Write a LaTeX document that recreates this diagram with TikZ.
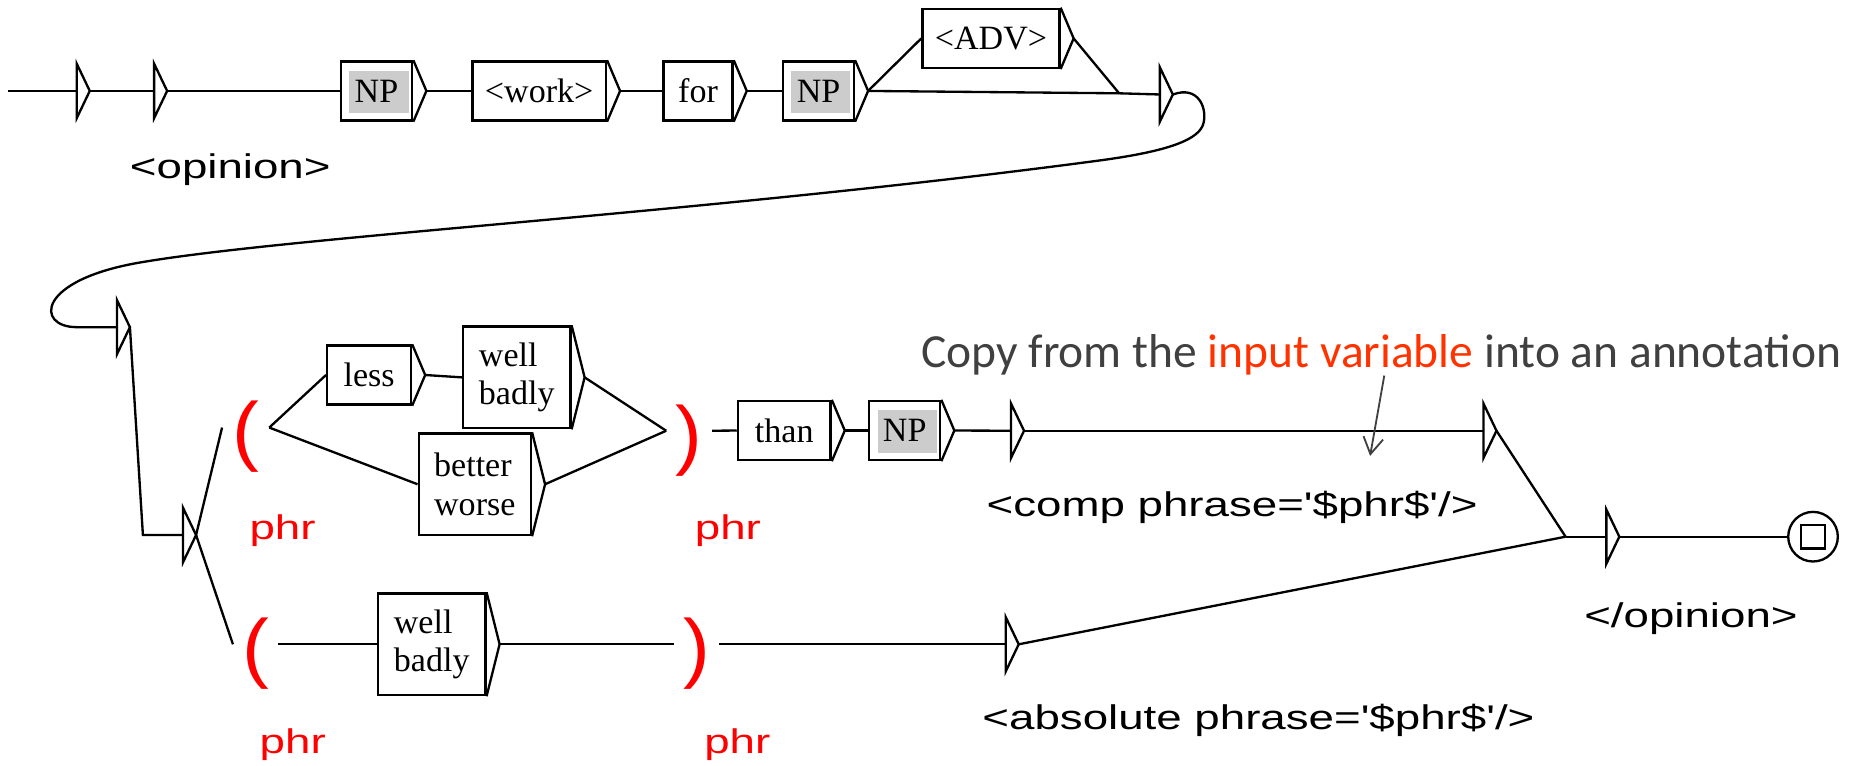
\documentclass[tikz,border=0pt]{standalone}
\usepackage{fontspec}
\usetikzlibrary{arrows.meta}
\newfontfamily\serfont{Liberation Serif}
\newfontfamily\sanfont{Liberation Sans}
\newfontfamily\notefont{Carlito}
\definecolor{notegray}{HTML}{404040}
\definecolor{notered}{HTML}{FF3300}
\newcommand{\px}{0.025cm}
\newcommand{\tip}[1]{\draw (#1.north east) -- ([shift={(11,0)}]#1.east) coordinate (#1-o) -- (#1.south east);}
\newcommand{\pglyph}[1]{\raisebox{-0.2cm}[\height][\depth]{\scalebox{1.1}[1.05]{#1}}}
\tikzset{
	box/.style={draw, inner sep=0pt, minimum height=50*\px, font=\serfont\fontsize{20.5}{23}\selectfont},
	box2/.style={box, align=left, minimum height=86*\px},
	npbox/.style={box, path picture={\fill[gray!40] ([shift={(7,8)}]path picture bounding box.north west) rectangle ([shift={(-3,-6)}]path picture bounding box.south east);}},
	tag/.style={inner sep=0pt, anchor=base west, xscale=1.335, font=\sanfont\fontsize{20.6}{24}\selectfont},
	var/.style={tag, text=red},
	paren/.style={inner sep=0pt, text=red, font=\sanfont\fontsize{44}{44}\selectfont},
	qstate/.pic={\draw (0,-23) -- (11,0) coordinate (-o) -- (0,23) -- cycle; \coordinate (-i) at (0,0);}
}
\begin{document}
\begin{tikzpicture}[x=\px, y=-\px, line width=1.4pt]
	\useasboundingbox (0,0) rectangle (1568,648);
	% first line of the graph
	\coordinate (in) at (7,77);
	\pic (q1) at (65,77) {qstate};
	\pic (q2) at (130.5,77) {qstate};
	\node[npbox, minimum width=60.5*\px] (np1) at (318.75,77) {NP}; \tip{np1}
	\node[box, minimum width=113*\px] (work) at (456.5,77) {<work>}; \tip{work}
	\node[box, minimum width=58.5*\px] (bfor) at (591,77) {for}; \tip{bfor}
	\node[npbox, minimum width=60*\px] (np2) at (693,77) {NP}; \tip{np2}
	\node[box, minimum width=116*\px] (adv) at (839,32.5) {<ADV>}; \tip{adv}
	\coordinate (j1) at (947.5,79);
	\pic (q3) at (982,80) {qstate};
	\node[tag] (lopen) at (108.7,151) {<opinion>};
	\draw (in) -- (q1-i);
	\draw (q1-o) -- (q2-i);
	\draw (q2-o) -- (np1.west);
	\draw (np1-o) -- (work.west);
	\draw (work-o) -- (bfor.west);
	\draw (bfor-o) -- (np2.west);
	\draw (np2-o) -- (adv.west);
	\draw (np2-o) -- (j1);
	\draw (adv-o) -- (j1) -- (q3-i);
	% loop back to the left
	\pic (q4) at (99,277) {qstate};
	\draw (q3-o) .. controls (1015,72) and (1022,92) .. (1019,104)
		.. controls (1016,118) and (990,128) .. (930,136)
		.. controls (600,180) and (250,200) .. (120,222)
		.. controls (30,237) and (30,277) .. (65,277) -- (q4-i);
	\coordinate (k1) at (121,453);
	\pic (q6) at (155,453) {qstate};
	\draw (q4-o) -- (k1) -- (q6-i);
	% comparative branch
	\node[paren, minimum width=38*\px] (lp1) at (208,362) {\pglyph{(}};
	\node[var] (v1) at (210,457) {phr};
	\node[box, minimum width=71*\px] (less) at (312.5,317.5) {less}; \tip{less}
	\node[box2, minimum width=91*\px] (wb1) at (437.5,319.5) {well\\badly}; \tip{wb1}
	\node[box2, minimum width=95*\px] (bw) at (402,410) {better\\worse}; \tip{bw}
	\node[paren, minimum width=37*\px] (rp1) at (583.5,364.7) {\pglyph{)}};
	\node[var] (v2) at (587,457) {phr};
	\node[box, minimum width=78.5*\px] (than) at (664,364.5) {than}; \tip{than}
	\node[npbox, minimum width=60*\px] (np3) at (766,364.5) {NP}; \tip{np3}
	\pic (q5) at (856,364.7) {qstate};
	\pic (q7) at (1256,364.7) {qstate};
	\node[tag] (lcomp) at (834,437.5) {<comp phrase=\textquotesingle\$phr\$\textquotesingle/>};
	\draw (q6-o) -- (lp1.west);
	\draw (lp1.east) -- (less.west);
	\draw (lp1.east) -- (bw.west);
	\draw (less-o) -- (wb1.west);
	\draw (wb1-o) -- (rp1.west);
	\draw (bw-o) -- (rp1.west);
	\draw (rp1.east) -- (than.west);
	\draw (than-o) -- (np3.west);
	\draw (np3-o) -- (q5-i);
	\draw (q5-o) -- (q7-i);
	% absolute branch
	\node[paren, minimum width=36.6*\px] (lp2) at (216.5,545.5) {\pglyph{(}};
	\node[var] (v3) at (218.6,637.8) {phr};
	\node[box2, minimum width=91*\px] (wb2) at (365.5,545.5) {well\\badly}; \tip{wb2}
	\node[paren, minimum width=36.4*\px] (rp2) at (589.8,545.5) {\pglyph{)}};
	\node[var] (v4) at (595,637.8) {phr};
	\pic (q8) at (851.5,545.5) {qstate};
	\node[tag] (labs) at (830.5,618) {<absolute phrase=\textquotesingle\$phr\$\textquotesingle/>};
	\draw (q6-o) -- (lp2.west);
	\draw (lp2.east) -- (wb2.west);
	\draw (wb2-o) -- (rp2.west);
	\draw (rp2.east) -- (q8-i);
	% end of the graph
	\coordinate (j2) at (1325.5,454.4);
	\pic (q9) at (1360,454.4) {qstate};
	\node[draw, circle, inner sep=0pt, minimum size=42*\px] (fin) at (1535,454.4) {};
	\node[draw, inner sep=0pt, minimum size=20*\px] (finbox) at (fin.center) {};
	\node[tag] (lclose) at (1340,531) {</opinion>};
	\draw (q7-o) -- (j2);
	\draw (q8-o) -- (j2);
	\draw (j2) -- (q9-i);
	\draw (q9-o) -- (fin.west);
	% annotation
	\node[anchor=base west, inner sep=0pt, text=notegray, font=\notefont\fontsize{28.6}{34}\selectfont] (note) at (779,311) {Copy from the \textcolor{notered}{input variable} into an annotation};
	\coordinate (ar-s) at (1172,318);
	\coordinate (ar-e) at (1160,386);
	\draw[notegray, line width=1.1pt, -{Straight Barb[length=0.35cm,width=0.42cm]}] (ar-s) -- (ar-e);
\end{tikzpicture}
\end{document}
